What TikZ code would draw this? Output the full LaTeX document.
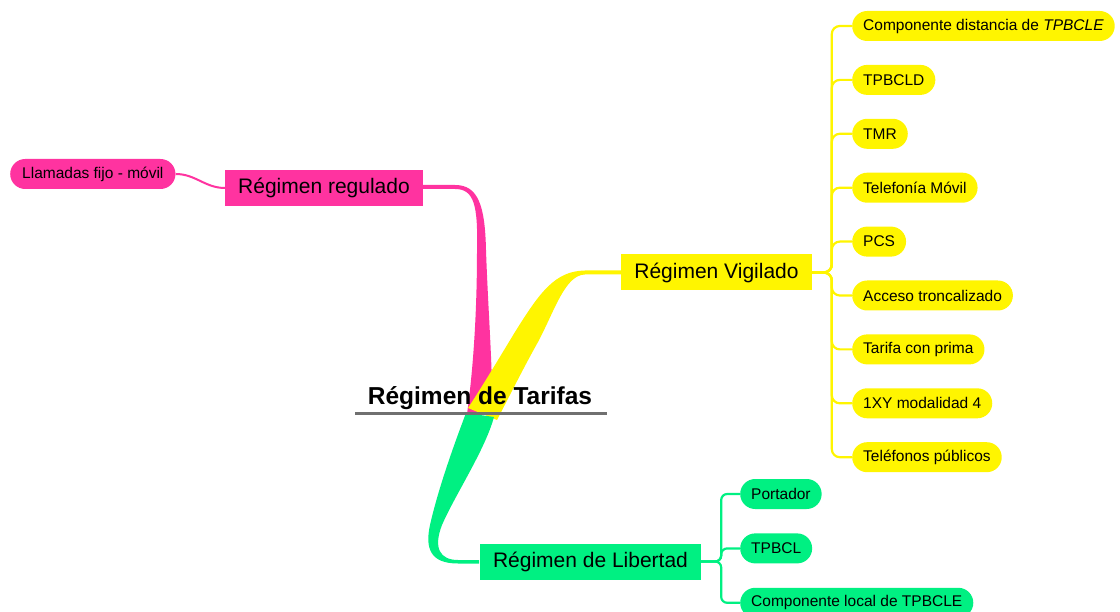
\documentclass[tikz,border=0pt]{standalone}
\usepackage{fontspec}
\setmainfont{Liberation Sans}
\usetikzlibrary{positioning}
\definecolor{regc}{RGB}{255,51,160}
\definecolor{vigc}{RGB}{255,245,0}
\definecolor{libc}{RGB}{0,240,130}
\definecolor{rulec}{RGB}{112,112,112}
\tikzset{
  mainbox/.style = {rectangle, inner xsep=13pt, minimum height=36pt,
                    font=\fontsize{21}{25}\selectfont},
  leaf/.style    = {rectangle, rounded corners=15pt, inner xsep=11pt, minimum height=30pt,
                    font=\fontsize{15.5}{18}\selectfont, anchor=west},
  twig/.style    = {line width=2.2pt, rounded corners=8pt},
  tarifas/.style = {font=\bfseries\fontsize{24.5}{29}\selectfont},
}

\begin{document}
\begin{tikzpicture}[x=1pt,y=-1pt]
\useasboundingbox (0,0) rectangle (1120,612);

% --- tapered main branches ----------------------------------------------
\fill[regc] (423,185) -- (455,185) .. controls (478,185) and (485,205) .. (486,250)
  .. controls (488,310) and (493,370) .. (492,412) -- (467,414)
  .. controls (471,385) and (477,330) .. (477,250)
  .. controls (478,205) and (474,189) .. (455,189) -- (423,189) -- cycle;
\fill[vigc] (621,270.5) -- (585,270.5) .. controls (555,271) and (540,292) .. (515,332)
  .. controls (495,365) and (480,390) .. (468,408) -- (497,420)
  .. controls (510,395) and (525,365) .. (538,342)
  .. controls (555,310) and (565,275) .. (585,274.5) -- (621,274.5) -- cycle;
\fill[libc] (466,413) -- (494,417) .. controls (485,450) and (455,495) .. (442,525)
  .. controls (433,548) and (440,560) .. (458,560) -- (479,560) -- (479,563.5)
  -- (458,563.5) .. controls (430,563.5) and (425,548) .. (430,525)
  .. controls (438,490) and (452,450) .. (466,413) -- cycle;

% --- centre ---------------------------------------------------------------
\node[tarifas, anchor=base] (root) at (480,405) {Régimen de Tarifas};
\draw[rulec, line width=3pt] (355,414) -- (607,414);

% --- regulado -------------------------------------------------------------
\node[mainbox, fill=regc] (reg) at (324,188) {Régimen regulado};
\node[leaf, fill=regc, inner xsep=12pt] (llam) at (10,174) {Llamadas fijo - móvil};

% --- vigilado -------------------------------------------------------------
\node[mainbox, fill=vigc] (vig) at (716.5,272.5) {Régimen Vigilado};
\node[leaf, fill=vigc] (v1) at (852,26) {Componente distancia de \textit{TPBCLE}};
\node[leaf, fill=vigc, below=23.5pt of v1.south west, anchor=north west] (v2) {TPBCLD};
\node[leaf, fill=vigc, below=23.5pt of v2.south west, anchor=north west] (v3) {TMR};
\node[leaf, fill=vigc, below=23.5pt of v3.south west, anchor=north west] (v4) {Telefonía Móvil};
\node[leaf, fill=vigc, below=23.5pt of v4.south west, anchor=north west] (v5) {PCS};
\node[leaf, fill=vigc, below=23.5pt of v5.south west, anchor=north west] (v6) {Acceso troncalizado};
\node[leaf, fill=vigc, below=23.5pt of v6.south west, anchor=north west] (v7) {Tarifa con prima};
\node[leaf, fill=vigc, below=23.5pt of v7.south west, anchor=north west] (v8) {1XY modalidad 4};
\node[leaf, fill=vigc, below=23.5pt of v8.south west, anchor=north west] (v9) {Teléfonos públicos};

% --- libertad -------------------------------------------------------------
\node[mainbox, fill=libc] (lib) at (590.5,561.5) {Régimen de Libertad};
\node[leaf, fill=libc] (l1) at (740,494) {Portador};
\node[leaf, fill=libc, below=24pt of l1.south west, anchor=north west] (l2) {TPBCL};
\node[leaf, fill=libc, below=24pt of l2.south west, anchor=north west] (l3) {Componente local de TPBCLE};

% --- twigs ----------------------------------------------------------------
\draw[regc, line width=2pt] (llam.east) to[out=0, in=180] (reg.west);
\draw[twig, vigc] (vig.east) -- ++(20,0) |- (v1.west);
\draw[twig, vigc] (vig.east) -- ++(20,0) |- (v2.west);
\draw[twig, vigc] (vig.east) -- ++(20,0) |- (v3.west);
\draw[twig, vigc] (vig.east) -- ++(20,0) |- (v4.west);
\draw[twig, vigc] (vig.east) -- ++(20,0) |- (v5.west);
\draw[twig, vigc] (vig.east) -- ++(20,0) |- (v6.west);
\draw[twig, vigc] (vig.east) -- ++(20,0) |- (v7.west);
\draw[twig, vigc] (vig.east) -- ++(20,0) |- (v8.west);
\draw[twig, vigc] (vig.east) -- ++(20,0) |- (v9.west);
\draw[twig, libc, rounded corners=6pt] (lib.east) -- ++(20,0) |- (l1.west);
\draw[twig, libc, rounded corners=6pt] (lib.east) -- ++(20,0) |- (l2.west);
\draw[twig, libc, rounded corners=6pt] (lib.east) -- ++(20,0) |- (l3.west);

\end{tikzpicture}
\end{document}
